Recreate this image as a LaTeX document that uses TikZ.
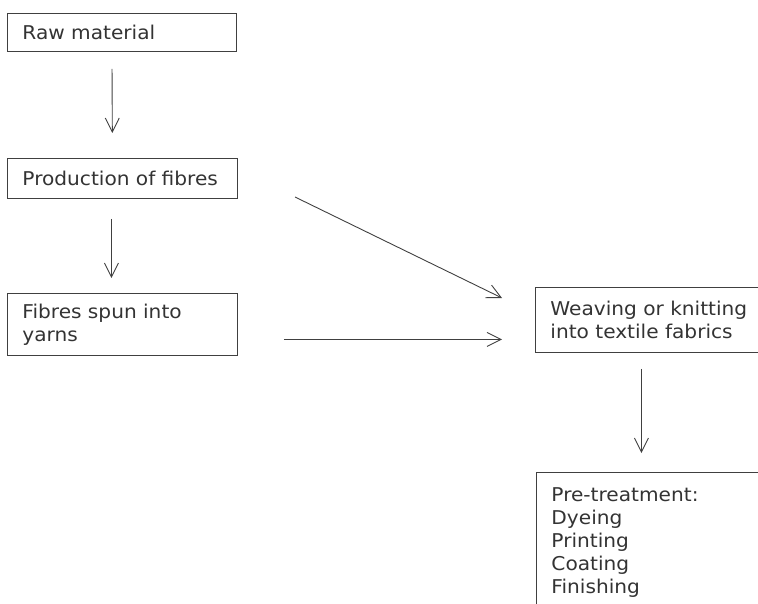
\documentclass[tikz,border=0pt]{standalone}
\usepackage{fontspec}
\setmainfont{DejaVu Sans}[FakeStretch=1.06]
\usetikzlibrary{arrows.meta}

\tikzset{
    flowbox/.style={draw=black!75, line width=0.9pt, text=black!80, anchor=north west,
        align=left, inner xsep=15pt, font=\fontsize{19}{23}\selectfont},
    flowarrow/.style={draw=black!75, line width=0.9pt, -{Straight Barb[length=14pt,width=14pt]}}
}

\begin{document}
\begin{tikzpicture}[x=1pt,y=-1pt]

    % Page
    \clip (0,0) rectangle (758,604);

    % Left column
    \node[flowbox, text width=199pt, minimum height=38pt] (raw) at (7,13) {Raw material};
    \node[flowbox, text width=200pt, minimum height=40pt] (prod) at (7,158) {Production of fibres};
    \node[flowbox, text width=200pt, minimum height=62pt] (yarn) at (7,293) {Fibres spun into\\yarns};

    % Right column
    \node[flowbox, text width=220pt, minimum height=65pt] (weave) at (535,287) {Weaving or knitting\\into textile fabrics};
    \node[flowbox, text width=220pt, inner ysep=15pt, text depth=100pt] (treat) at (536,472)
        {Pre-treatment:\\Dyeing\\Printing\\Coating\\Finishing};

    % Arrows
    \draw[flowarrow, shorten <=17pt, shorten >=25pt] ([xshift=-10pt]raw.south) -- ([xshift=-10pt]prod.north);
    \draw[flowarrow, shorten <=20pt, shorten >=15pt] ([xshift=-11pt]prod.south) -- ([xshift=-11pt]yarn.north);

    \coordinate (diagstart) at (295,197);
    \coordinate (diagend) at (502,298);
    \draw[flowarrow] (diagstart) -- (diagend);

    \coordinate (yarnout) at ([yshift=-15pt]yarn.east);
    \draw[flowarrow, shorten <=46pt, shorten >=33pt] (yarnout) -- (yarnout -| weave.west);

    \coordinate (weaveout) at ([xshift=-19pt]weave.south);
    \draw[flowarrow, shorten <=16pt, shorten >=19pt] (weaveout) -- (weaveout |- treat.north);

\end{tikzpicture}
\end{document}
